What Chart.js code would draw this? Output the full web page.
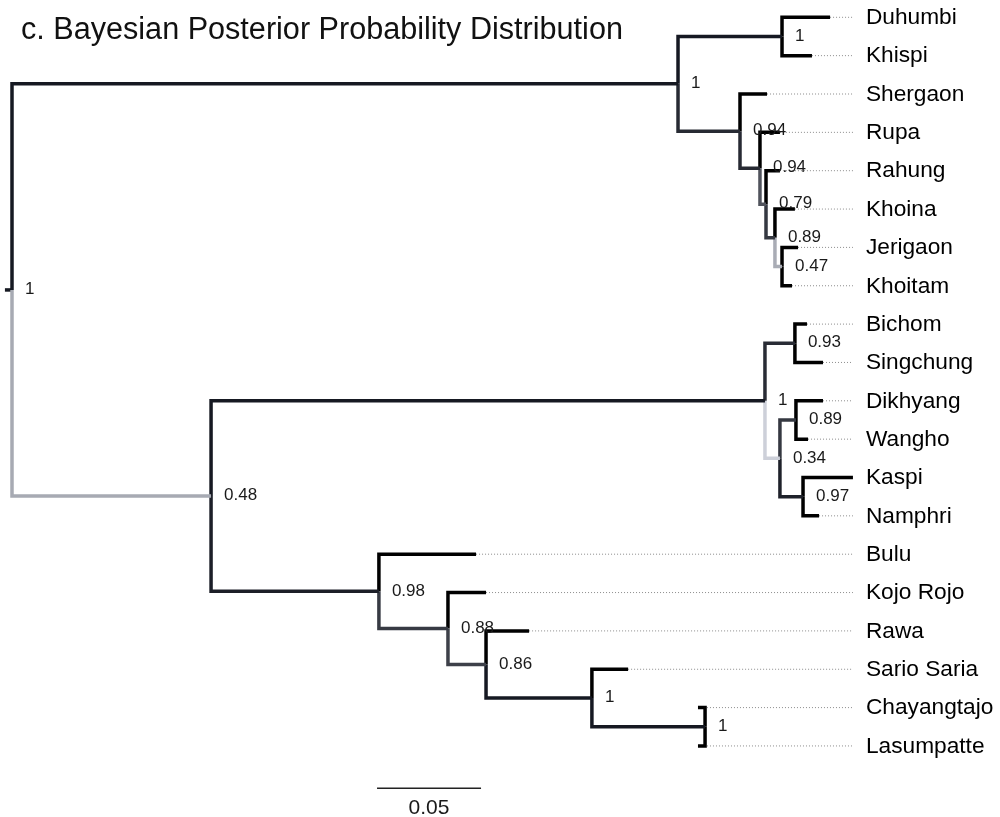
<!DOCTYPE html>
<html>
<head>
<meta charset="utf-8">
<script src="https://cdn.jsdelivr.net/npm/chart.js@4.4.1/dist/chart.umd.min.js"></script>
<style>
html,body{margin:0;padding:0;background:#fff;}
#wrap{width:1000px;height:817px;position:relative;}
</style>
</head>
<body>
<div id="wrap"><canvas id="tree"></canvas></div>
<script>
// tips, top to bottom
const tipNames = ['Duhumbi','Khispi','Shergaon','Rupa','Rahung','Khoina','Jerigaon','Khoitam',
  'Bichom','Singchung','Dikhyang','Wangho','Kaspi','Namphri',
  'Bulu','Kojo Rojo','Rawa','Sario Saria','Chayangtajo','Lasumpatte'];
const tipParent = ['DK','DK','B','C','D','E','F','F','I','I','K','K','L','L','H','M','N','O','P','P'];
// distance from root (substitutions/site)
const tipDepth = [0.3933,0.3846,0.3630,0.3692,0.3692,0.3764,0.3779,0.3750,
  0.3822,0.3899,0.3899,0.3827,0.4043,0.3880,
  0.2231,0.2279,0.2486,0.2962,0.3298,0.3298];

// internal nodes
const nodeId      = ['root','A','DK','B','C','D','E','F','X','G','I','J','K','L','H','M','N','O','P'];
const nodeParent  = [null,'root','A','A','B','C','D','E','root','X','G','G','J','J','X','H','M','N','O'];
const nodeDepth   = [0,0.3202,0.3702,0.3500,0.3596,0.3625,0.3668,0.3702,0.0957,0.3620,0.3764,0.3692,0.3769,0.3803,0.1764,0.2096,0.2279,0.2788,0.3332];
const nodeSupport = [1,1,1,0.94,0.94,0.79,0.89,0.47,0.48,1,0.93,0.34,0.89,0.97,0.98,0.88,0.86,1,1];

const rootEdge = 0.0034;
const scaleBarLength = 0.05;

// where things sit
const scaleBarX = 0.1755;
const scaleBarY = 20.1;

function depthOf(id){ return nodeDepth[nodeId.indexOf(id)]; }

// y of a node = middle of its children
const yCache = {};
function yOf(id){
  if(yCache[id]!==undefined) return yCache[id];
  let ys=[];
  tipParent.forEach((p,i)=>{ if(p===id) ys.push(i); });
  nodeParent.forEach((p,i)=>{ if(p===id) ys.push(yOf(nodeId[i])); });
  yCache[id]=(Math.min(...ys)+Math.max(...ys))/2;
  return yCache[id];
}

// darker branch = higher posterior
function shade(p){
  const g=Math.round(22+(1-p)*278);
  return 'rgb('+g+','+Math.min(255,g+3)+','+Math.min(255,g+12)+')';
}

const maxDepth=Math.max(...tipDepth);
const datasets=[];

function branch(parent,x,y,color){
  const px=depthOf(parent), py=yOf(parent);
  datasets.push({
    data:[{x:px,y:py},{x:px,y:y},{x:x,y:y}],
    borderColor:color,
    borderWidth:3.5,
    order:0
  });
}

nodeId.forEach((id,i)=>{
  if(nodeParent[i]===null) return;
  branch(nodeParent[i],nodeDepth[i],yOf(id),shade(nodeSupport[i]));
});

tipNames.forEach((n,i)=>{
  branch(tipParent[i],tipDepth[i],i,'#000');
  if(tipDepth[i]<maxDepth){
    datasets.push({
      data:[{x:tipDepth[i],y:i},{x:maxDepth,y:i}],
      borderColor:'#8c8c8c',
      borderWidth:1,
      borderDash:[1,2],
      order:2
    });
  }
});

datasets.push({
  data:[{x:-rootEdge,y:yOf('root')},{x:0,y:yOf('root')}],
  borderColor:shade(1),
  borderWidth:3.5,
  order:0
});

datasets.push({
  data:[{x:scaleBarX,y:scaleBarY},{x:scaleBarX+scaleBarLength,y:scaleBarY}],
  borderColor:'#222',
  borderWidth:1.5,
  order:1
});

const textPlugin={
  id:'treeText',
  afterDatasetsDraw(chart){
    const ctx=chart.ctx;
    const xs=chart.scales.x, ys=chart.scales.y;
    ctx.save();
    ctx.textAlign='left';
    ctx.textBaseline='middle';

    ctx.fillStyle='#000';
    ctx.font='22.7px "Liberation Sans", Arial, sans-serif';
    const lx=xs.getPixelForValue(maxDepth)+13;
    tipNames.forEach((n,i)=>{
      ctx.fillText(n,lx,ys.getPixelForValue(i)+0.5);
    });

    ctx.fillStyle='#1a1a1a';
    ctx.font='17px "Liberation Sans", Arial, sans-serif';
    nodeId.forEach((id,i)=>{
      ctx.fillText(String(nodeSupport[i]),xs.getPixelForValue(nodeDepth[i])+13,ys.getPixelForValue(yOf(id))-0.5);
    });

    ctx.textAlign='center';
    ctx.textBaseline='alphabetic';
    ctx.font='21px "Liberation Sans", Arial, sans-serif';
    ctx.fillText(String(scaleBarLength),
      xs.getPixelForValue(scaleBarX+scaleBarLength/2),
      ys.getPixelForValue(scaleBarY)+26);

    ctx.textAlign='left';
    ctx.fillStyle='#111';
    ctx.font='30.6px "Liberation Sans", Arial, sans-serif';
    ctx.fillText('c. Bayesian Posterior Probability Distribution',21,39);
    ctx.restore();
  }
};

new Chart(document.getElementById('tree'),{
  type:'scatter',
  data:{datasets:datasets},
  options:{
    responsive:true,
    maintainAspectRatio:false,
    animation:false,
    showLine:true,
    elements:{
      point:{radius:0,hoverRadius:0},
      line:{tension:0,borderJoinStyle:'miter',borderCapStyle:'butt',fill:false}
    },
    layout:{padding:0},
    scales:{
      x:{type:'linear',display:false,min:-12/2080,max:988/2080},
      y:{type:'linear',display:false,reverse:true,min:-17.3/38.35,max:(817-17.3)/38.35}
    },
    plugins:{
      legend:{display:false},
      tooltip:{enabled:false}
    }
  },
  plugins:[textPlugin]
});
</script>
</body>
</html>
